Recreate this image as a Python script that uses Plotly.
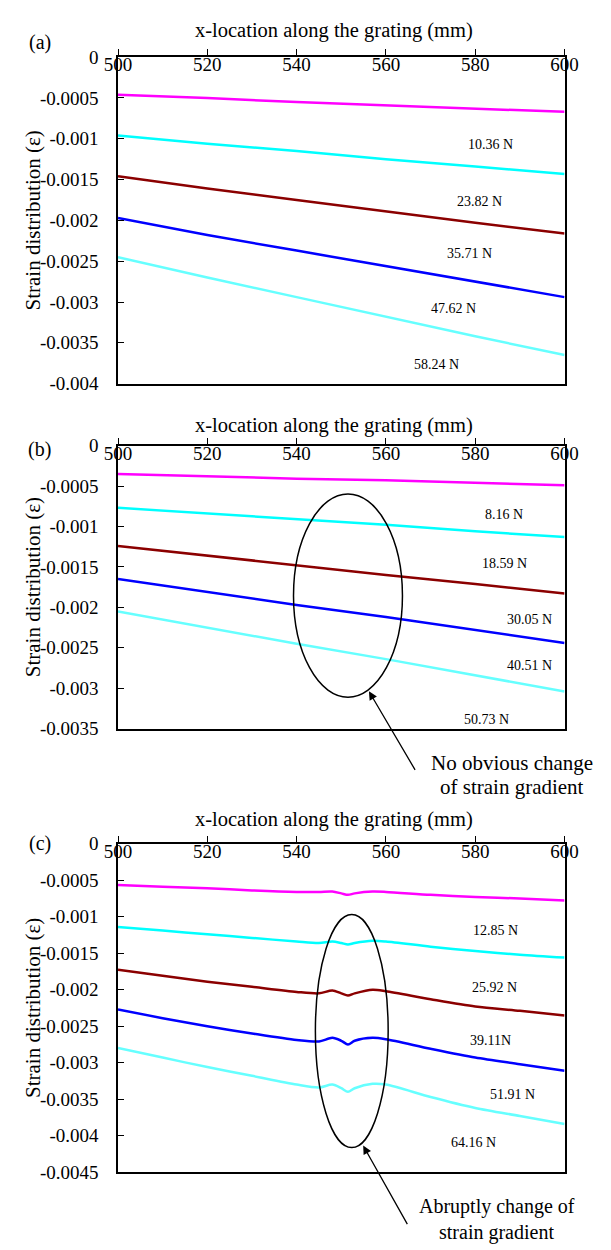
import plotly.graph_objects as go

# ---- data -------------------------------------------------------------
x_ab = [500, 520, 540, 560, 580, 600]

# (a) strain distributions
a_magenta = [-0.00046, -0.00050, -0.00055, -0.00059, -0.00063, -0.00067]
a_cyan = [-0.00096, -0.00106, -0.00115, -0.00125, -0.00134, -0.00143]
a_darkred = [-0.00146, -0.00161, -0.00175, -0.00189, -0.00203, -0.00216]
a_blue = [-0.00197, -0.00218, -0.00237, -0.00256, -0.00275, -0.00294]
a_lightcyan = [-0.00245, -0.00270, -0.00294, -0.00318, -0.00342, -0.00365]
a_loads = ["10.36 N", "23.82 N", "35.71 N", "47.62 N", "58.24 N"]

# (b) strain distributions
b_magenta = [-0.00035, -0.00038, -0.00041, -0.00043, -0.00046, -0.00049]
b_cyan = [-0.00077, -0.00084, -0.00091, -0.00098, -0.00106, -0.00113]
b_darkred = [-0.00124, -0.00136, -0.00148, -0.00160, -0.00171, -0.00183]
b_blue = [-0.00165, -0.00181, -0.00197, -0.00212, -0.00228, -0.00244]
b_lightcyan = [-0.00205, -0.00225, -0.00245, -0.00264, -0.00284, -0.00304]
b_loads = ["8.16 N", "18.59 N", "30.05 N", "40.51 N", "50.73 N"]

# (c) strain distributions with the local disturbance near 550 mm
x_c = [500, 510, 520, 530, 540, 545, 548, 550, 551.5, 553, 557, 560, 570, 580, 590, 600]
c_magenta = [-0.000566, -0.00059, -0.00061, -0.00064, -0.00066, -0.00066, -0.000655, -0.00068,
             -0.0007, -0.00068, -0.000655, -0.00066, -0.0007, -0.00073, -0.00075, -0.000777]
c_cyan = [-0.00114, -0.00119, -0.00124, -0.00129, -0.00134, -0.00136, -0.00134, -0.00136,
          -0.00138, -0.00136, -0.00133, -0.00134, -0.00141, -0.00147, -0.00152, -0.00156]
c_darkred = [-0.001725, -0.00181, -0.00189, -0.00196, -0.00203, -0.00205, -0.00201, -0.00205,
             -0.00208, -0.00205, -0.0020, -0.00202, -0.00213, -0.00223, -0.00229, -0.002354]
c_blue = [-0.00227, -0.00239, -0.0025, -0.0026, -0.00269, -0.00271, -0.00266, -0.0027,
          -0.00275, -0.0027, -0.00266, -0.00268, -0.00281, -0.00293, -0.00302, -0.00311]
c_lightcyan = [-0.0028, -0.00293, -0.00306, -0.00318, -0.0033, -0.00334, -0.0033, -0.00335,
               -0.0034, -0.00335, -0.00329, -0.0033, -0.00347, -0.00362, -0.00373, -0.00384]
c_loads = ["12.85 N", "25.92 N", "39.11N", "51.91 N", "64.16 N"]

x_ticks = [500, 520, 540, 560, 580, 600]
y_ticks_a = [0, -0.0005, -0.001, -0.0015, -0.002, -0.0025, -0.003, -0.0035, -0.004]
y_ticks_b = y_ticks_a[:8]
y_ticks_c = y_ticks_a + [-0.0045]
y_text_a = ["0", "-0.0005", "-0.001", "-0.0015", "-0.002", "-0.0025", "-0.003", "-0.0035", "-0.004"]
y_text_b = y_text_a[:8]
y_text_c = y_text_a + ["-0.0045"]

colors = ["#ff00ff", "#00ffff", "#8b0000", "#0000ff", "#66ffff"]

# ---- figure -----------------------------------------------------------
W, H = 611, 1250
FONT = "Liberation Serif, Times New Roman, serif"
fig = go.Figure()

panels = [
    ("", x_ab, [a_magenta, a_cyan, a_darkred, a_blue, a_lightcyan], "linear"),
    ("2", x_ab, [b_magenta, b_cyan, b_darkred, b_blue, b_lightcyan], "linear"),
    ("3", x_c, [c_magenta, c_cyan, c_darkred, c_blue, c_lightcyan], "spline"),
]
for suf, xs, series, shape in panels:
    for ys, col in zip(series, colors):
        fig.add_trace(go.Scatter(
            x=xs, y=ys, mode="lines", xaxis="x" + suf, yaxis="y" + suf,
            line=dict(color=col, width=2.5, shape=shape, smoothing=0.8),
            showlegend=False, hoverinfo="skip"))

# pixel geometry of each panel (top, bottom)
px_left, px_right = 109, 577
panel_px = [(48, 380), (443, 731), (848, 1182)]
y_ranges = [[-0.004, 0], [-0.0035, 0], [-0.0045, 0]]
y_tick_sets = [(y_ticks_a, y_text_a), (y_ticks_b, y_text_b), (y_ticks_c, y_text_c)]

axis_common = dict(showline=True, linecolor="black", linewidth=1.5, mirror=True,
                   showgrid=False, zeroline=False, tickcolor="black", tickwidth=1.2,
                   ticklen=6, tickfont=dict(family=FONT, size=19, color="black"))

for i, suf in enumerate(["", "2", "3"]):
    top, bot = panel_px[i]
    dom_y = [1 - bot / H, 1 - top / H]
    tv, tt = y_tick_sets[i]
    fig.layout["xaxis" + suf] = dict(
        axis_common, domain=[px_left / W, px_right / W], range=[500, 600],
        anchor="y" + suf, side="top", ticks="outside", tickvals=x_ticks,
        ticklabelposition="inside", ticklabeloverflow="allow", ticklabelstandoff=2)
    fig.layout["yaxis" + suf] = dict(
        axis_common, domain=dom_y, range=y_ranges[i], anchor="x" + suf,
        ticks="inside", tickvals=tv, ticktext=tt, ticklabelstandoff=14)

annotations = []
shapes = []
tfont = dict(family=FONT, size=20.5, color="black")
lfont = dict(family=FONT, size=14, color="black")

# axis titles and panel tags
title_y = [21, 423, 823]
tag_y = [33, 447, 848]
for i, tag in enumerate(["(a)", "(b)", "(c)"]):
    top, bot = panel_px[i]
    annotations.append(dict(text="x-location along the grating (mm)", xref="paper", yref="paper",
                            x=335 / W, y=1 - title_y[i] / H, showarrow=False, font=tfont,
                            xanchor="center", yanchor="middle"))
    annotations.append(dict(text=tag, xref="paper", yref="paper", x=27 / W, y=1 - tag_y[i] / H,
                            showarrow=False, font=dict(family=FONT, size=20, color="black"),
                            xanchor="center", yanchor="middle"))
    annotations.append(dict(text="Strain distribution (\u03b5)", xref="paper", yref="paper",
                            x=20 / W, y=1 - (top + bot) / 2 / H, textangle=-90,
                            showarrow=False, font=dict(family=FONT, size=21, color="black"),
                            xanchor="center", yanchor="middle"))

# load labels
a_pos = [(583.5, -0.00107), (581.0, -0.00177), (578.8, -0.0024), (575.2, -0.00308), (571.4, -0.00377)]
b_pos = [(586.5, -0.00085), (586.5, -0.001458), (592.1, -0.00215), (592.1, -0.00272), (582.5, -0.00338)]
c_pos = [(584.6, -0.001186), (584.3, -0.001967), (583.4, -0.002695), (588.4, -0.003436), (579.6, -0.004096)]
for suf, labels, pos in [("", a_loads, a_pos), ("2", b_loads, b_pos), ("3", c_loads, c_pos)]:
    for lab, (lx, ly) in zip(labels, pos):
        annotations.append(dict(text=lab, x=lx, y=ly, xref="x" + suf, yref="y" + suf,
                                showarrow=False, font=lfont, xanchor="center", yanchor="middle"))

# highlighted regions
shapes.append(dict(type="circle", xref="x2", yref="y2", x0=539.3, x1=563.7, y0=-0.00311, y1=-0.0006,
                   line=dict(color="black", width=1.5)))
shapes.append(dict(type="circle", xref="x3", yref="y3", x0=544.2, x1=560.5, y0=-0.004163, y1=-0.00097,
                   line=dict(color="black", width=1.5)))

# callout arrows and notes
annotations.append(dict(x=556.2, y=-0.003038, xref="x2", yref="y2", ax=47, ay=80, text="",
                        showarrow=True, arrowhead=2, arrowsize=1.3, arrowwidth=1.3, arrowcolor="black"))
annotations.append(dict(x=554.9, y=-0.004136, xref="x3", yref="y3", ax=45, ay=80, text="",
                        showarrow=True, arrowhead=2, arrowsize=1.3, arrowwidth=1.3, arrowcolor="black"))
nfont_b = dict(family=FONT, size=21, color="black")
nfont_c = dict(family=FONT, size=20, color="black")
annotations.append(dict(text="No obvious change", xref="paper", yref="paper", x=522 / W, y=1 - 766 / H,
                        showarrow=False, font=nfont_b, xanchor="center", yanchor="middle"))
annotations.append(dict(text="of strain gradient", xref="paper", yref="paper", x=522 / W, y=1 - 790 / H,
                        showarrow=False, font=nfont_b, xanchor="center", yanchor="middle"))
annotations.append(dict(text="Abruptly change of", xref="paper", yref="paper", x=506 / W, y=1 - 1217 / H,
                        showarrow=False, font=nfont_c, xanchor="center", yanchor="middle"))
annotations.append(dict(text="strain gradient", xref="paper", yref="paper", x=506 / W, y=1 - 1243 / H,
                        showarrow=False, font=nfont_c, xanchor="center", yanchor="middle"))

fig.update_layout(width=W, height=H, margin=dict(l=0, r=0, t=0, b=0),
                  paper_bgcolor="white", plot_bgcolor="white",
                  annotations=annotations, shapes=shapes,
                  font=dict(family=FONT, color="black"))

fig.write_html("out.html", config={"displayModeBar": False})
